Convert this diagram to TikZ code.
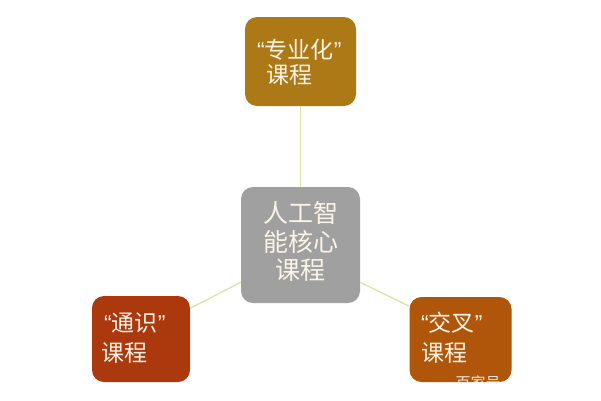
\documentclass[tikz,border=0pt]{standalone}
\usepackage{fontspec}
\setmainfont{Noto Sans CJK SC}
\newfontfamily\qfont{Liberation Sans}
\newcommand{\oq}{{\qfont “}}
\newcommand{\cq}{{\qfont ”}}
\definecolor{topc}{RGB}{173,120,22}
\definecolor{leftc}{RGB}{172,56,14}
\definecolor{rightc}{RGB}{176,86,10}
\definecolor{corec}{RGB}{160,160,160}
\definecolor{linkc}{RGB}{222,226,165}
\definecolor{txtc}{RGB}{250,244,230}
\tikzset{
  box/.style={draw=none, rounded corners=12pt, inner sep=0pt},
  txt/.style={inner sep=0pt, text=txtc, align=left},
  link/.style={draw=linkc, line width=1.3pt}
}
\begin{document}
\begin{tikzpicture}[x=1pt,y=-1pt]
\useasboundingbox[fill=white] (0,0) rectangle (601,400);
\node[box, fill=topc, minimum width=111pt, minimum height=89pt] (spec) at (300.5,61.5) {};
\node[box, fill=corec, minimum width=119pt, minimum height=116pt] (core) at (300.5,245) {};
\node[box, fill=leftc, minimum width=98pt, minimum height=86pt] (gen) at (141,339) {};
\node[box, fill=rightc, minimum width=102pt, minimum height=85pt] (cross) at (460.5,339.5) {};
\draw[link] (spec.south) -- (core.north);
\draw[link] (core.212) -- (gen.32);
\draw[link] (core.-32) -- (cross.147);
% texts
\node[txt, anchor=west, font=\fontsize{23}{25}\selectfont] (spect) at (257,62.5) {\oq{}专业化\cq{}\\\hspace*{9pt}课程};
\node[txt, align=center, font=\fontsize{25}{28.5}\selectfont] (coret) at (300.5,241.5) {人工智\\能核心\\课程};
\node[txt, anchor=west, font=\fontsize{23}{30}\selectfont] (gent) at (101,338) {\hspace*{3pt}\oq{}通识\cq{}\\课程};
\node[txt, anchor=west, font=\fontsize{23}{30}\selectfont] (crosst) at (421,338) {\oq{}交叉\cq{}\\课程};
\node[inner sep=0pt, text=white, opacity=0.85, font=\fontsize{15}{15}\selectfont] (wm) at (478,383) {百家号};
\end{tikzpicture}
\end{document}
